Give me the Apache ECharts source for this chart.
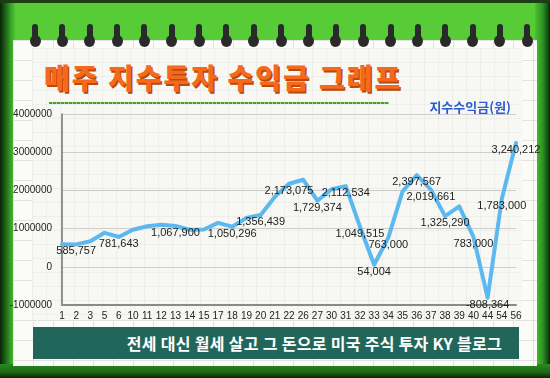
<!DOCTYPE html>
<html>
<head>
<meta charset="utf-8">
<script src="https://cdn.jsdelivr.net/npm/echarts@6/dist/echarts.min.js"></script>
<style>
  body { margin: 0; }
  #wrap { position: relative; width: 550px; height: 378px; overflow: hidden; background: #57cc36; }
  .abs { position: absolute; }
  /* 초록 테두리 */
  #edgeL { left: 0; top: 0; width: 15px; height: 378px; background: linear-gradient(to right, #0b220a, #1f6a17 40%, #3fae2b 80%, #4cc132); }
  #edgeR { left: 535px; top: 0; width: 15px; height: 378px; background: linear-gradient(to right, #4cc132, #2f9424 50%, #145012 85%, #0b220a); }
  #edgeB { left: 0; top: 364px; width: 550px; height: 14px; background: linear-gradient(to bottom, #2b8a20, #1b6515 60%, #0b220a); }
  #edgeT { left: 0; top: 0; width: 550px; height: 3px; background: #1c3d14; }
  /* 노트 종이 */
  #paper { left: 13px; top: 40px; width: 524px; height: 326px; background-color: #fbfbf8;
    background-image: linear-gradient(#e2e2e2 1px, transparent 1px), linear-gradient(90deg, #e2e2e2 1px, transparent 1px);
    background-size: 20px 20px; }
  #inner { left: 32px; top: 48px; width: 490px; height: 272px; background-color: #f7f7f3;
    background-image: linear-gradient(rgba(0,0,0,0.035) 1px, transparent 1px), linear-gradient(90deg, rgba(0,0,0,0.035) 1px, transparent 1px);
    background-size: 14px 14px; }
  .ringTop { width: 6px; height: 16px; border-radius: 3px 3px 2px 2px; background: #2a2a2a; }
  .ringBot { width: 11px; height: 12px; border-radius: 50%; background: #2a2a2a; }
  #title { left: 44px; top: 57px; font-family: "Noto Sans CJK KR"; font-weight: 900; font-size: 28px; letter-spacing: 2px;
    color: #f5691c; text-shadow: 1.5px 1.5px 0 #b9490d; white-space: nowrap; }
  #underline { left: 49px; top: 102px; width: 340px; height: 2px;
    background: repeating-linear-gradient(90deg, #4f9a35 0 3px, #9ccc7c 3px 4px); }
  #footer { left: 33px; top: 327px; width: 486px; height: 32px; background: #21665a; color: #fff;
    font-family: "Noto Sans CJK KR"; font-weight: 700; font-size: 16px; line-height: 32px; text-align: right;
    box-sizing: border-box; padding-right: 17px; letter-spacing: 0.3px; white-space: nowrap; }
  #chart { left: 0; top: 0; width: 550px; height: 378px; }
</style>
</head>
<body>
<div id="wrap">
  <div id="edgeL" class="abs"></div>
  <div id="edgeR" class="abs"></div>
  <div id="edgeB" class="abs"></div>
  <div id="edgeT" class="abs"></div>
  <div id="paper" class="abs"></div>
  <div id="inner" class="abs"></div>
  <div id="rings"></div>
  <div id="title" class="abs">매주 지수투자 수익금 그래프</div>
  <div id="underline" class="abs"></div>
  <div id="footer" class="abs">전세 대신 월세 살고 그 돈으로 미국 주식 투자 KY 블로그</div>
  <div id="chart" class="abs"></div>
</div>
<script>
// 주차
const weeks = ['1', '2', '3', '5', '6', '10', '11', '12', '13', '14', '15', '17', '18', '19', '20', '21', '22',
  '26', '27', '30', '31', '32', '33', '34', '35', '36', '37', '38', '39', '40', '44', '54', '56']
// 지수수익금(원)
const profit = [590000, 585757, 670000, 890000, 781643, 970000, 1060000, 1100000, 1067900, 970000, 975000,
  1150000, 1050296, 1280000, 1356439, 1830000, 2173075, 2280000, 1729374, 2030000, 2112534, 1049515,
  54004, 763000, 1970000, 2397567, 2019661, 1325290, 1580000, 783000, -808364, 1783000, 3240212]
// 값 표시하는 주차
const labeledWeeks = ['2', '6', '13', '18', '20', '22', '27', '31', '32', '33', '34', '36', '37', '38', '40', '44', '54', '56']
const yTicks = { min: -1000000, max: 4000000, step: 1000000 }

// 링 그리기
const rings = document.getElementById('rings')
for (let i = 0; i < 19; i++) {
  const x = 35 + i * 27.35
  const t = document.createElement('div')
  t.className = 'abs ringTop'
  t.style.left = (x - 3) + 'px'
  t.style.top = '24px'
  const b = document.createElement('div')
  b.className = 'abs ringBot'
  b.style.left = (x - 5.5) + 'px'
  b.style.top = '35px'
  rings.appendChild(t)
  rings.appendChild(b)
}

const numFont = '"Liberation Sans", Arial, sans-serif'
const seriesData = profit.map((v, i) => {
  if (labeledWeeks.indexOf(weeks[i]) >= 0) return { value: v, label: { show: true } }
  return v
})

const chart = echarts.init(document.getElementById('chart'))
chart.setOption({
  animation: false,
  legend: {
    data: ['지수수익금(원)'],
    icon: 'none',
    top: 95,
    right: 34,
    itemWidth: 0,
    itemGap: 0,
    textStyle: { color: '#2b5bd0', fontWeight: 'bold', fontSize: 13, fontFamily: '"Noto Sans CJK KR"' }
  },
  grid: { left: 62, right: 34, top: 114, bottom: 73 },
  xAxis: {
    type: 'category',
    data: weeks,
    boundaryGap: false,
    axisLine: { onZero: false, lineStyle: { color: '#8a8a8a', width: 2 } },
    axisTick: { show: false },
    axisLabel: { interval: 0, fontSize: 10, color: '#222', margin: 6, fontFamily: numFont },
    splitLine: { show: false }
  },
  yAxis: {
    type: 'value',
    min: yTicks.min,
    max: yTicks.max,
    interval: yTicks.step,
    axisLine: { show: true, lineStyle: { color: '#707070', width: 1.5 } },
    axisTick: { show: false },
    axisLabel: { fontSize: 10, color: '#222', margin: 10, fontFamily: numFont, formatter: v => String(v) },
    splitLine: { lineStyle: { color: '#cdcdcd', width: 1 } }
  },
  series: [
    {
      name: '지수수익금(원)',
      type: 'line',
      data: seriesData,
      symbol: 'circle',
      symbolSize: 1,
      showAllSymbol: true,
      itemStyle: { color: '#5cb9ef' },
      lineStyle: { color: '#5cb9ef', width: 4, join: 'round', cap: 'round' },
      label: {
        show: false,
        position: 'bottom',
        distance: 1,
        fontSize: 11,
        color: '#222',
        fontFamily: numFont,
        formatter: p => p.value.toLocaleString('en-US')
      }
    }
  ]
})
</script>
</body>
</html>
